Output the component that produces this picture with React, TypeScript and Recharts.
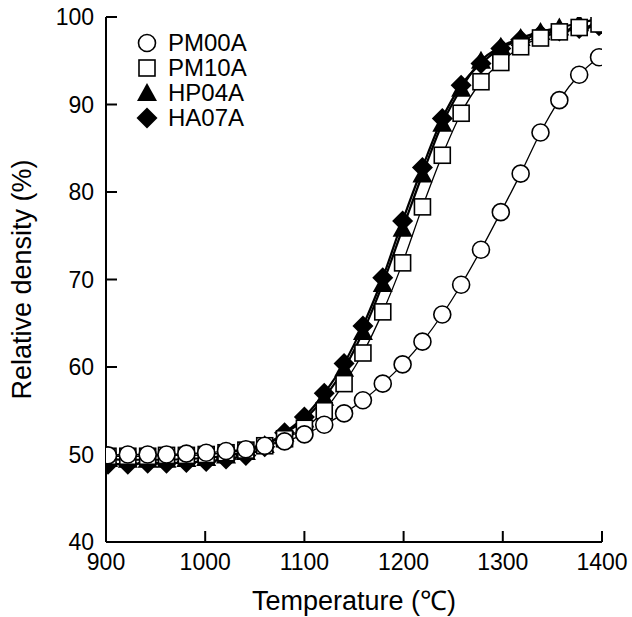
import React from 'react';
import { LineChart, Line, XAxis, YAxis, Legend } from 'recharts';

const temperatures = [902, 922, 942, 961, 981, 1001, 1021, 1041, 1060, 1080, 1100, 1120, 1140, 1159, 1179, 1199, 1219, 1239, 1258, 1278, 1298, 1318, 1338, 1357, 1377, 1397];
const pm00a = [49.9, 50.0, 50.0, 50.0, 50.1, 50.2, 50.4, 50.6, 51.0, 51.5, 52.3, 53.4, 54.7, 56.2, 58.1, 60.3, 62.9, 66.0, 69.4, 73.4, 77.7, 82.1, 86.8, 90.5, 93.4, 95.4];
const pm10a = [49.8, 49.8, 49.8, 49.9, 49.9, 50.0, 50.2, 50.5, 51.0, 51.8, 53.0, 55.0, 58.1, 61.6, 66.3, 71.9, 78.3, 84.2, 89.0, 92.6, 94.8, 96.6, 97.6, 98.3, 98.8, 99.2];
const hp04a = [49.5, 49.4, 49.4, 49.4, 49.5, 49.6, 49.9, 50.3, 51.1, 52.4, 54.0, 56.5, 59.8, 64.0, 69.5, 75.8, 82.0, 87.8, 91.8, 95.0, 96.6, 97.6, 98.3, 98.8, 99.3, 99.8];
const ha07a = [48.9, 48.9, 49.0, 49.0, 49.1, 49.2, 49.5, 49.9, 50.9, 52.5, 54.3, 57.0, 60.4, 64.7, 70.2, 76.7, 82.8, 88.4, 92.2, 94.7, 96.4, 97.4, 98.0, 98.4, 98.7, 99.0];

const xTicks = [900, 1000, 1100, 1200, 1300, 1400];
const yTicks = [40, 50, 60, 70, 80, 90, 100];

const seriesNames = ['PM00A', 'PM10A', 'HP04A', 'HA07A'];

const data = temperatures.map((t, i) => ({
  t,
  PM00A: pm00a[i],
  PM10A: pm10a[i],
  HP04A: hp04a[i],
  HA07A: ha07a[i],
}));

const FONT = '"Liberation Sans", Arial, Helvetica, sans-serif';

type Kind = 'circle' | 'square' | 'triangle' | 'diamond';
const kinds: Kind[] = ['circle', 'square', 'triangle', 'diamond'];

function Marker({ kind, cx, cy }: { kind: Kind; cx: number; cy: number }) {
  if (kind === 'circle') {
    return <circle cx={cx} cy={cy} r={8.5} fill="#fff" stroke="#000" strokeWidth={1.6} />;
  }
  if (kind === 'square') {
    return <rect x={cx - 8} y={cy - 8} width={16} height={16} fill="#fff" stroke="#000" strokeWidth={1.6} />;
  }
  if (kind === 'triangle') {
    return <polygon points={`${cx},${cy - 10} ${cx - 10},${cy + 8} ${cx + 10},${cy + 8}`} fill="#000" />;
  }
  return <polygon points={`${cx},${cy - 10.5} ${cx + 10.5},${cy} ${cx},${cy + 10.5} ${cx - 10.5},${cy}`} fill="#000" />;
}

const makeDot = (kind: Kind) => (props: any) => {
  const { cx, cy, index } = props;
  if (cx == null || cy == null) return <g key={`${kind}-${index}`} />;
  return <Marker key={`${kind}-${index}`} kind={kind} cx={cx} cy={cy} />;
};

function LegendContent() {
  return (
    <div style={{ fontFamily: FONT, fontSize: 24, color: '#000', lineHeight: '25px' }}>
      {seriesNames.map((name, i) => (
        <div key={name} style={{ display: 'flex', alignItems: 'center', height: 25 }}>
          <svg width={22} height={22} style={{ marginRight: 10 }}>
            <Marker kind={kinds[i]} cx={11} cy={11} />
          </svg>
          <span>{name}</span>
        </div>
      ))}
    </div>
  );
}

export default function App() {
  return (
    <div style={{ position: 'absolute', left: 0, top: 0, background: '#fff' }}>
      <LineChart width={632} height={617} data={data} margin={{ top: 17, right: 30, left: 0, bottom: 0 }}>
        <XAxis
          dataKey="t"
          type="number"
          domain={[900, 1400]}
          ticks={xTicks}
          height={75}
          tickSize={-11}
          tickMargin={23}
          axisLine={{ stroke: '#000', strokeWidth: 2 }}
          tickLine={{ stroke: '#000', strokeWidth: 2 }}
          tick={{ fill: '#000', fontSize: 23, fontFamily: FONT }}
          allowDataOverflow
          label={{
            content: (p: any) => {
              const vb = p.viewBox || { x: 106, y: 542, width: 496, height: 75 };
              return (
                <text x={vb.x + vb.width / 2} y={vb.y + 68} textAnchor="middle" fontSize={27} fontFamily={FONT} fill="#000">
                  Temperature (℃)
                </text>
              );
            },
          }}
        />
        <XAxis
          xAxisId="top"
          orientation="top"
          dataKey="t"
          type="number"
          domain={[900, 1400]}
          height={0}
          tick={false}
          tickLine={false}
          axisLine={{ stroke: '#000', strokeWidth: 2 }}
        />
        <YAxis
          type="number"
          domain={[40, 100]}
          ticks={yTicks}
          width={106}
          tickSize={-11}
          tickMargin={23}
          axisLine={{ stroke: '#000', strokeWidth: 2 }}
          tickLine={{ stroke: '#000', strokeWidth: 2 }}
          tick={{ fill: '#000', fontSize: 23, fontFamily: FONT }}
          allowDataOverflow
          label={{
            content: (p: any) => {
              const vb = p.viewBox || { x: 0, y: 17, width: 106, height: 525 };
              const x = vb.x + 22;
              const y = vb.y + vb.height / 2;
              return (
                <text x={x} y={y} transform={`rotate(-90 ${x} ${y})`} textAnchor="middle" dominantBaseline="central" fontSize={27} fontFamily={FONT} fill="#000">
                  Relative density (%)
                </text>
              );
            },
          }}
        />
        <YAxis
          yAxisId="right"
          orientation="right"
          type="number"
          domain={[40, 100]}
          width={0}
          tick={false}
          tickLine={false}
          axisLine={{ stroke: '#000', strokeWidth: 2 }}
        />
        <Legend
          layout="vertical"
          align="center"
          verticalAlign="middle"
          content={() => <LegendContent />}
          wrapperStyle={{ left: 136, top: 30, width: 'auto' }}
        />
        <Line type="monotone" dataKey="HP04A" stroke="#000" strokeWidth={2.2} dot={makeDot('triangle')} activeDot={false} isAnimationActive={false} />
        <Line type="monotone" dataKey="HA07A" stroke="#000" strokeWidth={2.2} dot={makeDot('diamond')} activeDot={false} isAnimationActive={false} />
        <Line type="monotone" dataKey="PM10A" stroke="#000" strokeWidth={1.3} dot={makeDot('square')} activeDot={false} isAnimationActive={false} />
        <Line type="monotone" dataKey="PM00A" stroke="#000" strokeWidth={1.3} dot={makeDot('circle')} activeDot={false} isAnimationActive={false} />
      </LineChart>
    </div>
  );
}
